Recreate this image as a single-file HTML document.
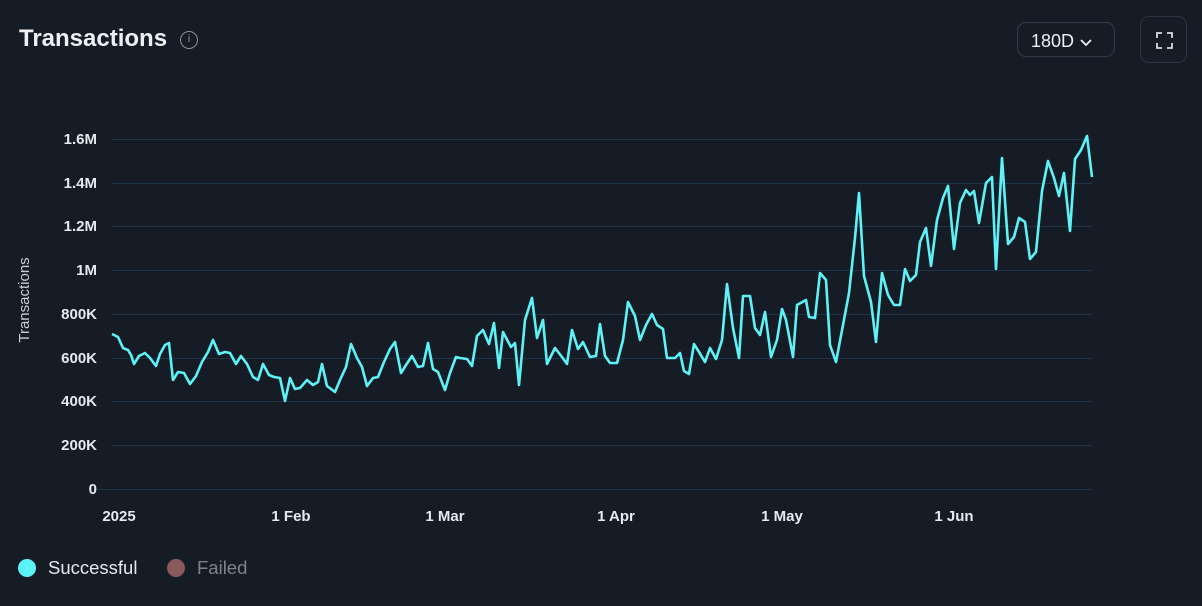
<!DOCTYPE html>
<html><head><meta charset="utf-8"><style>
body{margin:0;width:1202px;height:606px;background:#161c26;font-family:"Liberation Sans",sans-serif;overflow:hidden;position:relative;color:#e6e9ee}
.t{position:absolute;left:19px;top:25px;font-size:24px;font-weight:bold;color:#eef0f3}
.info{position:absolute;left:180px;top:31px;width:18px;height:18px;border:1.5px solid #8a919c;border-radius:50%;box-sizing:border-box;color:#8a919c;font-size:11px;text-align:center;line-height:15px}
.btn{position:absolute;left:1017px;top:22px;width:98px;height:35px;border:1px solid #333c48;border-radius:9px;box-sizing:border-box;font-size:18px;color:#eef0f3;padding:8px 0 0 13px}
.fs{position:absolute;left:1140px;top:16px;width:47px;height:47px;border:1px solid #2c3540;border-radius:9px;box-sizing:border-box}
.leg{position:absolute;top:557px;font-size:18.5px}
.dot{position:absolute;top:559px;width:18px;height:18px;border-radius:50%}
</style></head><body>
<div class="t">Transactions</div><div class="info">i</div>
<div class="btn">180D <svg width="14" height="10" style="vertical-align:middle"><path d="M2 3 L7 8 L12 3" stroke="#eef0f3" stroke-width="1.8" fill="none"/></svg></div>
<div class="fs"><svg width="47" height="47"><path d="M16 21V16H21 M26 16H31V21 M31 26V31H26 M21 31H16V26" stroke="#d8dce2" stroke-width="1.8" fill="none"/></svg></div>
<svg width="1202" height="606" style="position:absolute;left:0;top:0">
<g stroke="#1f3447" stroke-width="1">
<line x1="112" x2="1092" y1="139.5" y2="139.5"/><line x1="112" x2="1092" y1="183.5" y2="183.5"/><line x1="112" x2="1092" y1="226.5" y2="226.5"/><line x1="112" x2="1092" y1="270.5" y2="270.5"/><line x1="112" x2="1092" y1="314.5" y2="314.5"/><line x1="112" x2="1092" y1="358.5" y2="358.5"/><line x1="112" x2="1092" y1="401.5" y2="401.5"/><line x1="112" x2="1092" y1="445.5" y2="445.5"/><line x1="98" x2="1092" y1="489.5" y2="489.5"/>
</g>
<g font-size="15" font-weight="bold" fill="#e6e9ee" text-anchor="end">
<text x="97" y="144">1.6M</text><text x="97" y="188">1.4M</text><text x="97" y="231">1.2M</text><text x="97" y="275">1M</text><text x="97" y="319">800K</text><text x="97" y="363">600K</text><text x="97" y="406">400K</text><text x="97" y="450">200K</text><text x="97" y="494">0</text>
</g>
<g font-size="15" font-weight="bold" fill="#e6e9ee" text-anchor="middle">
<text x="119" y="521">2025</text><text x="291" y="521">1 Feb</text><text x="445" y="521">1 Mar</text><text x="616" y="521">1 Apr</text><text x="782" y="521">1 May</text><text x="954" y="521">1 Jun</text>
</g>
<text transform="translate(29,300) rotate(-90)" font-size="15" fill="#c9ced6" text-anchor="middle">Transactions</text>
<polyline fill="none" stroke="#5ef2f7" stroke-width="2.6" stroke-linejoin="round" points="112,334 118,337 123,348 128,350 131,355 134,364 139,356 145,353 150,358 156,366 160,354 165,345 169,343 173,380 178,372 184,373 190,384 196,376 202,362 208,352 213,340 219,354 225,352 230,353 236,364 241,356 247,364 253,377 258,380 263,364 269,375 274,377 280,378 285,401 290,378 295,389 300,388 307,380 313,385 318,382 322,364 327,386 335,392 340,380 346,367 351,344 357,358 362,367 367,386 373,378 378,377 384,362 390,349 395,342 401,373 406,365 412,356 418,367 423,366 428,343 433,369 438,372 445,390 450,373 456,357 460,358 467,359 472,366 477,336 483,330 489,344 494,323 499,368 503,332 511,347 515,343 519,385 525,320 532,298 537,338 543,320 547,364 555,348 562,357 567,364 572,330 578,349 583,342 590,357 596,356 600,324 605,356 610,363 617,363 623,340 628,302 635,316 640,340 646,325 652,314 657,325 663,329 667,358 675,358 680,353 684,371 689,374 694,344 699,352 705,362 710,348 716,359 722,340 727,284 733,328 739,358 743,296 750,296 755,328 760,335 765,312 771,357 777,340 782,309 786,320 793,357 797,305 806,300 809,317 815,318 820,273 826,280 830,345 836,362 843,325 849,293 855,238 859,193 864,276 871,302 876,342 882,273 888,295 894,305 900,305 905,269 910,281 916,275 920,242 926,228 931,266 937,220 943,198 948,186 954,249 960,203 966,190 970,195 974,191 979,223 986,183 992,177 996,269 1002,158 1008,244 1014,237 1019,218 1025,222 1030,259 1036,252 1042,191 1048,161 1054,178 1059,196 1064,173 1070,231 1075,159 1081,150 1087,136 1092,177"/>
</svg>
<div class="dot" style="left:18px;background:#5ef2f7"></div><div class="leg" style="left:48px;color:#e6e9ee">Successful</div>
<div class="dot" style="left:167px;background:#8a5a5e"></div><div class="leg" style="left:197px;color:#7d838d">Failed</div>
</body></html>
